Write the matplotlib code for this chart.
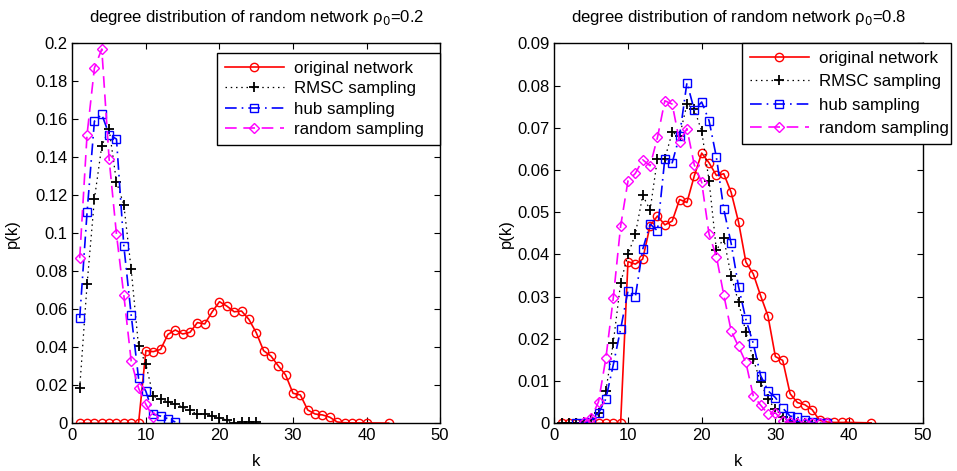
import matplotlib
matplotlib.use('Agg')
import matplotlib.pyplot as plt

plt.rcParams['font.family'] = ['Liberation Sans', 'DejaVu Sans']
plt.rcParams['font.size'] = 12

# original network (same in both panels)
k_orig = list(range(1, 41)) + [43]
p_orig = [0, 0, 0, 0, 0, 0, 0, 0, 0,
          0.0383, 0.0377, 0.0389, 0.0468, 0.0491, 0.0470, 0.0479, 0.0530, 0.0523, 0.0586, 0.0640,
          0.0617, 0.0587, 0.0591, 0.0547, 0.0477, 0.0382, 0.0354, 0.0302, 0.0254, 0.0158,
          0.0149, 0.0070, 0.0049, 0.0044, 0.0032, 0.0007, 0.0003, 0.0002, 0.0002, 0.0002, 0.0001]

# rho_0 = 0.2
k_rmsc_a = list(range(1, 26))
p_rmsc_a = [0.0185, 0.0731, 0.118, 0.146, 0.155, 0.127, 0.115, 0.081, 0.0405, 0.031,
            0.0142, 0.0128, 0.0113, 0.0102, 0.0085, 0.0069, 0.0047, 0.0047, 0.0038, 0.0030,
            0.0016, 0.0003, 0.0008, 0.0008, 0.0008]
k_hub_a = list(range(1, 15))
p_hub_a = [0.0554, 0.111, 0.159, 0.1626, 0.152, 0.1496, 0.0933, 0.057, 0.0237, 0.0168,
           0.0047, 0.0038, 0.0024, 0.0007]
k_rand_a = list(range(1, 12))
p_rand_a = [0.0869, 0.152, 0.187, 0.197, 0.139, 0.0994, 0.0674, 0.0327, 0.0185, 0.0099, 0.0033]

# rho_0 = 0.8
k_rmsc_b = list(range(1, 36))
p_rmsc_b = [0, 0, 0, 0.0003, 0.0010, 0.0024, 0.0077, 0.0190, 0.0332, 0.0400,
            0.0448, 0.0540, 0.0505, 0.0627, 0.0627, 0.0689, 0.0680, 0.0756, 0.0744, 0.0692,
            0.0575, 0.0410, 0.0438, 0.0349, 0.0287, 0.0216, 0.0152, 0.0097, 0.0057, 0.0033,
            0.0016, 0.0002, 0, 0, 0]
k_hub_b = list(range(3, 38))
p_hub_b = [0, 0, 0.0004, 0.0024, 0.0058, 0.0138, 0.0223, 0.0314, 0.0300, 0.0412,
           0.0472, 0.0456, 0.0627, 0.0617, 0.0681, 0.0807, 0.0742, 0.0761, 0.0717, 0.0630,
           0.0507, 0.0426, 0.0324, 0.0246, 0.0189, 0.0113, 0.0077, 0.0061, 0.0036, 0.0017,
           0.0014, 0.0008, 0.0002, 0, 0]
k_rand_b = list(range(4, 38))
p_rand_b = [0.0002, 0.0012, 0.0051, 0.0154, 0.0296, 0.0467, 0.0574, 0.0592, 0.0624, 0.0610,
            0.0677, 0.0764, 0.0756, 0.0667, 0.0698, 0.0612, 0.0571, 0.0448, 0.0395, 0.0304,
            0.0219, 0.0182, 0.0144, 0.0065, 0.0043, 0.0022, 0.0025, 0.0005, 0.0002, 0.0001,
            0, 0, 0, 0]

labels = ['original network', 'RMSC sampling', 'hub sampling', 'random sampling']

W, H = 957, 471
fig = plt.figure(figsize=(W / 100, H / 100), dpi=100)
ax1 = fig.add_axes([0.0756, 0.1013, 0.3843, 0.8067])
ax2 = fig.add_axes([0.5792, 0.1013, 0.3850, 0.8067])

# legend boxes in pixels: left, top, right, bottom
panels = [
    (ax1, (k_rmsc_a, p_rmsc_a), (k_hub_a, p_hub_a), (k_rand_a, p_rand_a), 0.2, 0.02, '0.2',
     (217, 53, 440, 146), 11, 0.33),
    (ax2, (k_rmsc_b, p_rmsc_b), (k_hub_b, p_hub_b), (k_rand_b, p_rand_b), 0.09, 0.01, '0.8',
     (742, 43, 951, 149), 2, 0.5),
]

for ax, rmsc, hub, rand, ymax, ystep, rho, lbox, ypad, lspace in panels:
    ax.plot(k_orig, p_orig, '-', color='red', marker='o', mfc='none', ms=6, lw=1.2, label=labels[0])
    ax.plot(rmsc[0], rmsc[1], ':', color='black', marker='+', ms=7, mew=1.3, lw=0.9,
            dashes=(1.2, 3), label=labels[1])
    ax.plot(hub[0], hub[1], '-.', color='blue', marker='s', mfc='none', ms=5.5, lw=1.2,
            dashes=(7, 3, 1, 3), label=labels[2])
    ax.plot(rand[0], rand[1], '--', color='magenta', marker='D', mfc='none', ms=5.5, lw=1.2,
            dashes=(7, 4), label=labels[3])
    ax.set_xlim(0, 50)
    ax.set_ylim(0, ymax)
    ax.set_xticks(range(0, 51, 10))
    n = int(round(ymax / ystep))
    ax.set_yticks([i * ystep for i in range(n + 1)])
    ax.set_yticklabels(['0'] + ['%g' % round(i * ystep, 2) for i in range(1, n + 1)])
    ax.tick_params(direction='in', top=True, right=True, length=4, labelsize=12)
    ax.set_xlabel('k', fontsize=12, labelpad=8)
    ax.set_ylabel('p(k)', fontsize=12, labelpad=ypad)
    ax.set_title('degree distribution of random network \u03c1$_0$=' + rho, fontsize=12, pad=15)
    x0, y0, x1, y1 = lbox
    anchor = (x0 / W, 1 - y1 / H, (x1 - x0) / W, (y1 - y0) / H)
    leg = ax.legend(loc='upper left', bbox_to_anchor=anchor, bbox_transform=fig.transFigure,
                    mode='expand', fontsize=12.2, fancybox=False, framealpha=1, edgecolor='black',
                    handlelength=3.5, handletextpad=0.6, borderaxespad=0, borderpad=0.45,
                    labelspacing=lspace)
    leg.get_frame().set_linewidth(1.0)
    for s in ax.spines.values():
        s.set_linewidth(1.0)

fig.savefig('out.png', dpi=100)
